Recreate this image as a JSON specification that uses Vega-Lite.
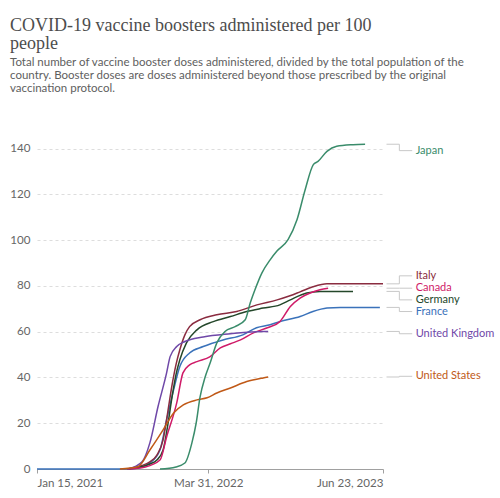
{
  "$schema": "https://vega.github.io/schema/vega-lite/v6.json",
  "width": 346,
  "height": 325,
  "autosize": {"type": "none"},
  "padding": {"left": 37, "top": 144, "right": 117, "bottom": 29},
  "background": "white",
  "title": {
    "text": ["COVID-19 vaccine boosters administered per 100", "people"],
    "subtitle": [
      "Total number of vaccine booster doses administered, divided by the total population of the",
      "country. Booster doses are doses administered beyond those prescribed by the original",
      "vaccination protocol."
    ],
    "anchor": "start",
    "frame": "group",
    "dx": -27,
    "offset": 47,
    "font": "Liberation Serif",
    "fontSize": 18,
    "fontWeight": "normal",
    "color": "#4d4d4d",
    "lineHeight": 18,
    "subtitleFont": "Lato",
    "subtitleFontSize": 11.5,
    "subtitleColor": "#5e5e5e",
    "subtitleLineHeight": 13,
    "subtitlePadding": 4
  },
  "datasets": {
    "series": [
      {"country": "France", "date": "2021-01-15", "value": 0},
      {"country": "France", "date": "2021-09-03", "value": 0},
      {"country": "France", "date": "2021-10-08", "value": 0.7},
      {"country": "France", "date": "2021-11-01", "value": 2.6},
      {"country": "France", "date": "2021-11-27", "value": 8.3},
      {"country": "France", "date": "2021-12-14", "value": 21.4},
      {"country": "France", "date": "2022-01-01", "value": 34.6},
      {"country": "France", "date": "2022-01-17", "value": 44.8},
      {"country": "France", "date": "2022-02-11", "value": 50.7},
      {"country": "France", "date": "2022-03-18", "value": 53.5},
      {"country": "France", "date": "2022-05-08", "value": 56.4},
      {"country": "France", "date": "2022-06-28", "value": 58.6},
      {"country": "France", "date": "2022-08-02", "value": 61.7},
      {"country": "France", "date": "2022-09-06", "value": 63},
      {"country": "France", "date": "2022-10-01", "value": 64.4},
      {"country": "France", "date": "2022-11-22", "value": 66.6},
      {"country": "France", "date": "2022-12-25", "value": 68.8},
      {"country": "France", "date": "2023-01-30", "value": 70.3},
      {"country": "France", "date": "2023-03-05", "value": 70.6},
      {"country": "France", "date": "2023-06-15", "value": 70.6},

      {"country": "Italy", "date": "2021-09-05", "value": 0},
      {"country": "Italy", "date": "2021-10-08", "value": 1.3},
      {"country": "Italy", "date": "2021-11-01", "value": 3.1},
      {"country": "Italy", "date": "2021-11-19", "value": 6.1},
      {"country": "Italy", "date": "2021-12-05", "value": 12.7},
      {"country": "Italy", "date": "2021-12-17", "value": 24.9},
      {"country": "Italy", "date": "2021-12-28", "value": 36.7},
      {"country": "Italy", "date": "2022-01-07", "value": 45.5},
      {"country": "Italy", "date": "2022-01-17", "value": 52.1},
      {"country": "Italy", "date": "2022-01-30", "value": 58.6},
      {"country": "Italy", "date": "2022-02-11", "value": 62.2},
      {"country": "Italy", "date": "2022-03-10", "value": 65.2},
      {"country": "Italy", "date": "2022-04-22", "value": 67.4},
      {"country": "Italy", "date": "2022-06-12", "value": 68.8},
      {"country": "Italy", "date": "2022-08-03", "value": 71.7},
      {"country": "Italy", "date": "2022-09-24", "value": 73.9},
      {"country": "Italy", "date": "2022-10-27", "value": 75.7},
      {"country": "Italy", "date": "2022-11-22", "value": 77.4},
      {"country": "Italy", "date": "2022-12-25", "value": 79.6},
      {"country": "Italy", "date": "2023-01-30", "value": 80.9},
      {"country": "Italy", "date": "2023-03-05", "value": 80.9},
      {"country": "Italy", "date": "2023-06-23", "value": 80.9},

      {"country": "Germany", "date": "2021-09-05", "value": 0},
      {"country": "Germany", "date": "2021-10-08", "value": 0.9},
      {"country": "Germany", "date": "2021-11-01", "value": 2.2},
      {"country": "Germany", "date": "2021-11-19", "value": 3.9},
      {"country": "Germany", "date": "2021-12-05", "value": 8.3},
      {"country": "Germany", "date": "2021-12-17", "value": 19.2},
      {"country": "Germany", "date": "2021-12-28", "value": 31.5},
      {"country": "Germany", "date": "2022-01-07", "value": 41.1},
      {"country": "Germany", "date": "2022-01-17", "value": 47.7},
      {"country": "Germany", "date": "2022-02-03", "value": 55.1},
      {"country": "Germany", "date": "2022-03-02", "value": 60.8},
      {"country": "Germany", "date": "2022-04-13", "value": 64.4},
      {"country": "Germany", "date": "2022-05-27", "value": 66.6},
      {"country": "Germany", "date": "2022-07-08", "value": 68.8},
      {"country": "Germany", "date": "2022-08-19", "value": 70.3},
      {"country": "Germany", "date": "2022-10-01", "value": 71.7},
      {"country": "Germany", "date": "2022-10-28", "value": 73.9},
      {"country": "Germany", "date": "2022-12-09", "value": 76.9},
      {"country": "Germany", "date": "2023-01-12", "value": 77.6},
      {"country": "Germany", "date": "2023-04-07", "value": 77.6},

      {"country": "Canada", "date": "2021-09-05", "value": 0},
      {"country": "Canada", "date": "2021-10-20", "value": 0.9},
      {"country": "Canada", "date": "2021-11-27", "value": 3.9},
      {"country": "Canada", "date": "2021-12-14", "value": 14},
      {"country": "Canada", "date": "2022-01-09", "value": 28.9},
      {"country": "Canada", "date": "2022-01-25", "value": 42},
      {"country": "Canada", "date": "2022-02-11", "value": 45.5},
      {"country": "Canada", "date": "2022-03-02", "value": 46.9},
      {"country": "Canada", "date": "2022-04-05", "value": 49.1},
      {"country": "Canada", "date": "2022-05-01", "value": 52.9},
      {"country": "Canada", "date": "2022-05-27", "value": 54.7},
      {"country": "Canada", "date": "2022-06-22", "value": 56.4},
      {"country": "Canada", "date": "2022-07-25", "value": 59.5},
      {"country": "Canada", "date": "2022-08-30", "value": 61.7},
      {"country": "Canada", "date": "2022-10-01", "value": 64.4},
      {"country": "Canada", "date": "2022-10-28", "value": 71},
      {"country": "Canada", "date": "2022-11-22", "value": 74.7},
      {"country": "Canada", "date": "2022-12-18", "value": 76.9},
      {"country": "Canada", "date": "2023-01-12", "value": 78.3},
      {"country": "Canada", "date": "2023-02-02", "value": 79},

      {"country": "United Kingdom", "date": "2021-09-05", "value": 0},
      {"country": "United Kingdom", "date": "2021-10-12", "value": 3.2},
      {"country": "United Kingdom", "date": "2021-11-01", "value": 11.4},
      {"country": "United Kingdom", "date": "2021-11-22", "value": 27.3},
      {"country": "United Kingdom", "date": "2021-12-14", "value": 42},
      {"country": "United Kingdom", "date": "2021-12-23", "value": 49.1},
      {"country": "United Kingdom", "date": "2022-01-09", "value": 53.5},
      {"country": "United Kingdom", "date": "2022-01-30", "value": 55.7},
      {"country": "United Kingdom", "date": "2022-03-18", "value": 57.7},
      {"country": "United Kingdom", "date": "2022-05-27", "value": 59.1},
      {"country": "United Kingdom", "date": "2022-08-19", "value": 60.1},
      {"country": "United Kingdom", "date": "2022-09-01", "value": 60.1},

      {"country": "United States", "date": "2021-08-16", "value": 0},
      {"country": "United States", "date": "2021-10-01", "value": 1},
      {"country": "United States", "date": "2021-11-01", "value": 8.3},
      {"country": "United States", "date": "2021-12-05", "value": 17.1},
      {"country": "United States", "date": "2022-01-01", "value": 24.5},
      {"country": "United States", "date": "2022-01-26", "value": 28},
      {"country": "United States", "date": "2022-03-02", "value": 30.2},
      {"country": "United States", "date": "2022-03-28", "value": 31.1},
      {"country": "United States", "date": "2022-04-22", "value": 33.2},
      {"country": "United States", "date": "2022-05-27", "value": 35.4},
      {"country": "United States", "date": "2022-07-08", "value": 38.2},
      {"country": "United States", "date": "2022-08-19", "value": 39.8},
      {"country": "United States", "date": "2022-09-01", "value": 40.2},

      {"country": "Japan", "date": "2021-11-27", "value": 0},
      {"country": "Japan", "date": "2022-01-07", "value": 0.9},
      {"country": "Japan", "date": "2022-01-30", "value": 2.6},
      {"country": "Japan", "date": "2022-02-17", "value": 11.4},
      {"country": "Japan", "date": "2022-02-28", "value": 20.1},
      {"country": "Japan", "date": "2022-03-10", "value": 31.5},
      {"country": "Japan", "date": "2022-03-23", "value": 40.2},
      {"country": "Japan", "date": "2022-04-05", "value": 46.4},
      {"country": "Japan", "date": "2022-04-22", "value": 55.1},
      {"country": "Japan", "date": "2022-05-13", "value": 60.1},
      {"country": "Japan", "date": "2022-06-08", "value": 62.2},
      {"country": "Japan", "date": "2022-07-04", "value": 65.2},
      {"country": "Japan", "date": "2022-07-17", "value": 72.6},
      {"country": "Japan", "date": "2022-07-29", "value": 78.3},
      {"country": "Japan", "date": "2022-08-16", "value": 85.7},
      {"country": "Japan", "date": "2022-09-06", "value": 91.4},
      {"country": "Japan", "date": "2022-09-23", "value": 95.1},
      {"country": "Japan", "date": "2022-10-22", "value": 100.2},
      {"country": "Japan", "date": "2022-11-14", "value": 108.9},
      {"country": "Japan", "date": "2022-12-05", "value": 122},
      {"country": "Japan", "date": "2022-12-26", "value": 133},
      {"country": "Japan", "date": "2023-01-07", "value": 134.4},
      {"country": "Japan", "date": "2023-01-30", "value": 138.8},
      {"country": "Japan", "date": "2023-02-24", "value": 141},
      {"country": "Japan", "date": "2023-04-07", "value": 141.7},
      {"country": "Japan", "date": "2023-05-08", "value": 141.9}
    ],
    "connectors": [
      {"country": "Japan", "date": "2023-07-02", "value": 141.9},
      {"country": "Japan", "date": "2023-09-06", "value": 139.1},
      {"country": "Italy", "date": "2023-07-02", "value": 80.9},
      {"country": "Italy", "date": "2023-09-06", "value": 84.4},
      {"country": "Canada", "date": "2023-07-02", "value": 79},
      {"country": "Canada", "date": "2023-09-06", "value": 79},
      {"country": "Germany", "date": "2023-07-02", "value": 77.6},
      {"country": "Germany", "date": "2023-09-06", "value": 73.9},
      {"country": "France", "date": "2023-07-02", "value": 70.6},
      {"country": "France", "date": "2023-09-06", "value": 68.8},
      {"country": "United Kingdom", "date": "2023-07-02", "value": 60.1},
      {"country": "United Kingdom", "date": "2023-09-06", "value": 59.1},
      {"country": "United States", "date": "2023-07-02", "value": 40.2},
      {"country": "United States", "date": "2023-09-06", "value": 40.5}
    ],
    "labels": [
      {"country": "Japan", "date": "2023-09-15", "value": 139.1},
      {"country": "Italy", "date": "2023-09-15", "value": 84.4},
      {"country": "Canada", "date": "2023-09-15", "value": 79},
      {"country": "Germany", "date": "2023-09-15", "value": 73.9},
      {"country": "France", "date": "2023-09-15", "value": 68.8},
      {"country": "United Kingdom", "date": "2023-09-15", "value": 59.1},
      {"country": "United States", "date": "2023-09-15", "value": 40.5}
    ]
  },
  "encoding": {
    "x": {
      "field": "date",
      "type": "temporal",
      "scale": {
        "type": "utc",
        "domain": [
          {"year": 2021, "month": 1, "date": 15, "utc": true},
          {"year": 2023, "month": 6, "date": 23, "utc": true}
        ]
      },
      "axis": {
        "title": null,
        "values": [
          {"year": 2021, "month": 1, "date": 15, "utc": true},
          {"year": 2022, "month": 3, "date": 31, "utc": true},
          {"year": 2023, "month": 6, "date": 23, "utc": true}
        ],
        "format": "%b %-d, %Y",
        "labelFlush": true,
        "grid": false,
        "domainColor": "#a0a0a0",
        "tickColor": "#a0a0a0",
        "tickSize": 4,
        "labelPadding": 4,
        "labelFont": "Lato",
        "labelFontSize": 11.6,
        "labelColor": "#666666"
      }
    },
    "y": {
      "field": "value",
      "type": "quantitative",
      "scale": {"domain": [0, 142], "nice": false},
      "axis": {
        "title": null,
        "values": [0, 20, 40, 60, 80, 100, 120, 140],
        "domain": false,
        "ticks": false,
        "labelPadding": 7,
        "grid": true,
        "gridColor": "#dddddd",
        "gridDash": [3, 3],
        "labelFont": "Lato",
        "labelFontSize": 11.6,
        "labelColor": "#666666"
      }
    }
  },
  "layer": [
    {
      "data": {"name": "connectors"},
      "mark": {"type": "line", "interpolate": "step", "color": "#c8c8c8", "strokeWidth": 1},
      "encoding": {"detail": {"field": "country", "type": "nominal"}}
    },
    {
      "data": {"name": "series"},
      "mark": {"type": "line", "interpolate": "monotone", "strokeWidth": 1.5},
      "encoding": {
        "color": {
          "field": "country",
          "type": "nominal",
          "scale": {
            "domain": ["Japan", "Italy", "Canada", "Germany", "France", "United Kingdom", "United States"],
            "range": ["#3A8C6B", "#8A2C40", "#CF1B68", "#24472A", "#3A72BA", "#6F48A8", "#C05917"]
          },
          "legend": null
        }
      }
    },
    {
      "data": {"name": "labels"},
      "mark": {"type": "text", "align": "left", "baseline": "middle", "font": "Lato", "fontSize": 11},
      "encoding": {
        "text": {"field": "country", "type": "nominal"},
        "color": {"field": "country", "type": "nominal", "legend": null}
      }
    }
  ],
  "config": {"view": {"stroke": null}}
}
